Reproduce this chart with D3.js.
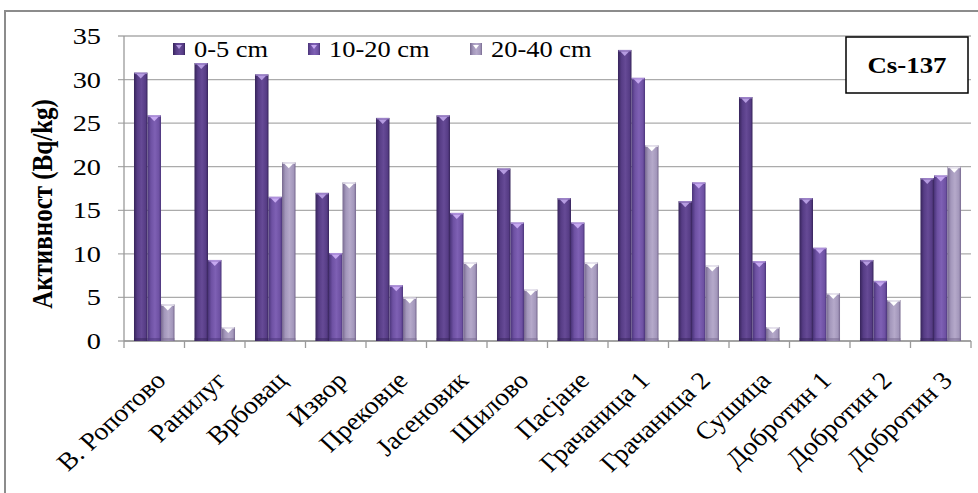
<!DOCTYPE html>
<html><head><meta charset="utf-8">
<script src="https://cdn.jsdelivr.net/npm/d3@7"></script>
<style>html,body{margin:0;padding:0;background:#fff;}svg{display:block;}</style>
</head><body>
<script>
const categories = ["В. Ропотово","Ранилуг","Врбовац","Извор","Прековце","Јасеновик","Шилово","Пасјане","Грачаница 1","Грачаница 2","Сушица","Добротин 1","Добротин 2","Добротин 3"];
const seriesNames = ["0-5 cm","10-20 cm","20-40 cm"];
const depth0_5 = [30.8,31.9,30.6,17.0,25.6,25.9,19.8,16.4,33.4,16.05,28.0,16.4,9.3,18.7];
const depth10_20 = [25.9,9.3,16.55,10.1,6.4,14.7,13.6,13.6,30.2,18.2,9.16,10.7,6.9,19.0];
const depth20_40 = [4.2,1.6,20.5,18.2,5.0,9.0,5.9,9.0,22.45,8.66,1.6,5.5,4.7,20.0];
const yTicks = [0,5,10,15,20,25,30,35];
const yTitle = "Активност (Bq/kg)";
const badge = "Cs-137";

const W = 978, H = 493, SX = 1.15;
const FONT = "'Liberation Serif','Times New Roman',serif";
const svg = d3.select("body").append("svg").attr("width", W).attr("height", H);
const defs = svg.append("defs");
const palettes = [
  {edge:"#36245a", mid:"#563c85", hi:"#664a96", tri:"#b59be0"},
  {edge:"#4a3479", mid:"#6e51a3", hi:"#7e60b4", tri:"#c6a8f0"},
  {edge:"#77698f", mid:"#a397bb", hi:"#b5a9ca", tri:"#ffffff"}
];
palettes.forEach((p,i)=>{
  const g = defs.append("linearGradient").attr("id","g"+i).attr("x1","0").attr("x2","1").attr("y1","0").attr("y2","0");
  g.append("stop").attr("offset","0%").attr("stop-color",p.edge);
  g.append("stop").attr("offset","25%").attr("stop-color",p.mid);
  g.append("stop").attr("offset","55%").attr("stop-color",p.hi);
  g.append("stop").attr("offset","85%").attr("stop-color",p.mid);
  g.append("stop").attr("offset","100%").attr("stop-color",p.edge);
});

function stext(sel, x, y, str, opts={}) {
  return sel.append("text")
    .attr("transform", `translate(${x},${y}) scale(${opts.sx||SX},1)` + (opts.rot ? ` rotate(${opts.rot})` : ""))
    .attr("font-family", FONT)
    .attr("font-size", opts.size || 22)
    .attr("font-weight", opts.bold ? "bold" : "normal")
    .attr("text-anchor", opts.anchor || "start")
    .attr("fill", "#000")
    .text(str);
}

// outer border
svg.append("rect").attr("x",5).attr("y",11).attr("width",W+20).attr("height",H+20)
  .attr("fill","none").attr("stroke","#8c8c8c").attr("stroke-width",2);

const x0 = 124, x1 = 971, yTop = 36, yBot = 341;
const x = d3.scaleBand().domain(categories).range([x0,x1]).paddingInner(0.33).paddingOuter(0.165);
const xs = d3.scaleBand().domain([0,1,2]).range([0,x.bandwidth()]);
const y = d3.scaleLinear().domain([0,35]).range([yBot,yTop]);

// gridlines
svg.append("g").selectAll("line").data(yTicks).join("line")
  .attr("x1", x0-6).attr("x2", x1).attr("y1", d=>y(d)).attr("y2", d=>y(d))
  .attr("stroke","#ababab").attr("stroke-width",1.3);

// axes
svg.append("line").attr("x1",x0).attr("x2",x0).attr("y1",yTop).attr("y2",yBot).attr("stroke","#9a9a9a").attr("stroke-width",1.3);
svg.append("line").attr("x1",x0).attr("x2",x1).attr("y1",yBot).attr("y2",yBot).attr("stroke","#9a9a9a").attr("stroke-width",1.3);
const bounds = categories.map(c=>x(c) - (x.step()-x.bandwidth())/2).concat([x1]);
svg.append("g").selectAll("line").data(bounds).join("line")
  .attr("x1",d=>d).attr("x2",d=>d).attr("y1",yBot).attr("y2",yBot+7)
  .attr("stroke","#9a9a9a").attr("stroke-width",1.3);

// y tick labels
yTicks.forEach(t=>{
  stext(svg, 101, y(t)+8, String(t), {anchor:"end", size:24, sx:1.18});
});

// bars
const series = [depth0_5, depth10_20, depth20_40];
series.forEach((vals, si)=>{
  const g = svg.append("g");
  const p = palettes[si];
  const bw = xs.bandwidth();
  g.selectAll("rect.bar").data(vals).join("rect").attr("class","bar")
    .attr("x",(d,i)=>x(categories[i])+xs(si)).attr("width",bw)
    .attr("y",d=>y(d)).attr("height",d=>yBot-y(d))
    .attr("fill",`url(#g${si})`);
  g.selectAll("rect.top").data(vals).join("rect").attr("class","top")
    .attr("x",(d,i)=>x(categories[i])+xs(si)+0.5).attr("width",bw-1)
    .attr("y",d=>y(d)).attr("height",1.5).attr("fill",p.tri).attr("opacity",0.7);
  g.selectAll("path.tri").data(vals).join("path").attr("class","tri")
    .attr("d",(d,i)=>{
      const bx = x(categories[i])+xs(si), ty = y(d);
      return `M${bx+bw*0.18},${ty+1.5}L${bx+bw*0.82},${ty+1.5}L${bx+bw/2},${ty+6}Z`;
    })
    .attr("fill",p.tri);
  g.selectAll("rect.bot").data(vals).join("rect").attr("class","bot")
    .attr("x",(d,i)=>x(categories[i])+xs(si)).attr("width",bw)
    .attr("y",yBot-3).attr("height",3).attr("fill",p.edge).attr("opacity",0.5);
});

// x labels
categories.forEach(c=>{
  const cx = x(c) + x.bandwidth()/2;
  stext(svg, cx+13, yBot+41, c, {anchor:"end", size:25, rot:-45, sx:1.1});
});

// y title
stext(svg, 52, 204, yTitle, {anchor:"middle", size:25, bold:true, rot:-90, sx:1.15});

// legend
const legX = [173, 308, 470];
seriesNames.forEach((n,i)=>{
  const p = palettes[i];
  svg.append("rect").attr("x",legX[i]).attr("y",43).attr("width",12).attr("height",12).attr("fill",`url(#g${i})`);
  svg.append("path").attr("d",`M${legX[i]+3},${45}L${legX[i]+9},${45}L${legX[i]+6},${49}Z`).attr("fill",p.tri);
  stext(svg, legX[i]+21, 57, n, {size:23});
});

// badge
svg.append("rect").attr("x",846).attr("y",37).attr("width",122).attr("height",56)
  .attr("fill","#fff").attr("stroke","#000").attr("stroke-width",1.5);
stext(svg, 907, 73, badge, {anchor:"middle", size:24, bold:true, sx:1.12});
</script>
</body></html>
